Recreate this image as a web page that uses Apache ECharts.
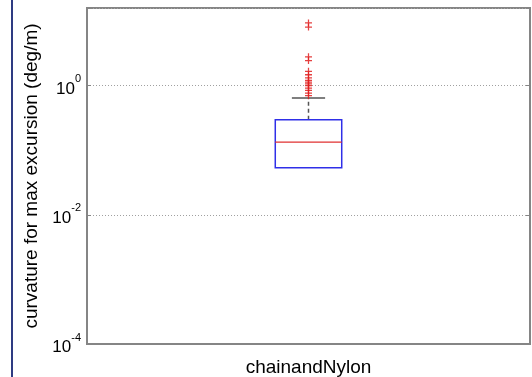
<!DOCTYPE html>
<html><head><meta charset="utf-8">
<script src="https://cdn.jsdelivr.net/npm/echarts@6/dist/echarts.min.js"></script>
<style>html,body{margin:0;padding:0;background:#fff}#c{width:532px;height:377px}</style>
</head><body><div id="c"></div>
<script>
const categories = ['chainandNylon'];
// [lowerWhisker, Q1, median, Q3, upperWhisker]
const boxStats = [[0.0536, 0.0536, 0.134, 0.297, 0.645]];
const outliers = [9.4, 8.1, 2.8, 2.45, 1.67, 1.48, 1.32, 1.21, 1.14, 1.07, 1.0, 0.92, 0.85, 0.77, 0.70];
const yTicks = [1e-4, 1e-2, 1e0];
const yLabel = 'curvature for max excursion (deg/m)';

const chart = echarts.init(document.getElementById('c'), null, {renderer: 'canvas'});
const FONT = 'Liberation Sans, Arial, sans-serif';

function fmt(v) {
  const e = Math.round(Math.log10(v));
  if (Math.abs(v / Math.pow(10, e) - 1) > 1e-6) return '';
  if (!yTicks.some(t => Math.abs(t / v - 1) < 1e-6)) return '';
  return '{b|10}{s|' + e + '}';
}

const yCommon = {
  type: 'log', logBase: 10, min: 1e-4, max: 16, interval: 2,
  axisLine: {show: true, lineStyle: {color: '#858585', width: 2}},
  axisTick: {show: true, inside: true, length: 4, lineStyle: {color: '#858585', width: 1}},
  minorTick: {show: false}
};

chart.setOption({
  animation: false,
  grid: {left: 87, right: 2, top: 8, bottom: 32, show: true, borderColor: '#858585', borderWidth: 2},
  xAxis: {
    type: 'category', data: categories,
    axisLine: {show: true, lineStyle: {color: '#858585', width: 2}},
    axisTick: {show: false},
    axisLabel: {color: '#000', fontFamily: FONT, fontSize: 19, margin: 14}
  },
  yAxis: [
    Object.assign({}, yCommon, {
      position: 'left',
      name: yLabel, nameLocation: 'middle', nameGap: 39, nameRotate: 90,
      nameTextStyle: {color: '#000', fontFamily: FONT, fontSize: 19, padding: [0, 0, 0, 0]},
      splitLine: {show: true, lineStyle: {color: '#a0a0a0', type: [1, 2], width: 1}},
      axisLabel: {
        formatter: fmt, margin: 6,
        rich: {
          b: {fontFamily: FONT, fontSize: 17, color: '#000', padding: [7, 0, 0, 0]},
          s: {fontFamily: FONT, fontSize: 11, color: '#000', verticalAlign: 'top', padding: [0, 0, 9, 0]}
        }
      }
    }),
    Object.assign({}, yCommon, {
      position: 'right', splitLine: {show: false}, axisLabel: {show: false}
    })
  ],
  graphic: [{
    type: 'line', shape: {x1: 12, y1: 0, x2: 12, y2: 377},
    style: {stroke: '#2e3b82', lineWidth: 2}
  }],
  series: [
    {
      type: 'custom',
      coordinateSystem: 'cartesian2d',
      data: boxStats.map((s, i) => [i].concat(s)),
      encode: {x: 0, y: [1, 2, 3, 4, 5]},
      renderItem: function (params, api) {
        const i = api.value(0);
        const bw = api.size([1, 0])[0];
        const half = bw * 0.075, capHalf = bw * 0.0375;
        const pLo = api.coord([i, api.value(1)]);
        const pQ1 = api.coord([i, api.value(2)]);
        const pMed = api.coord([i, api.value(3)]);
        const pQ3 = api.coord([i, api.value(4)]);
        const pHi = api.coord([i, api.value(5)]);
        const x = pQ1[0];
        return {
          type: 'group',
          children: [
            {type: 'line', shape: {x1: x, y1: pQ3[1], x2: x, y2: pHi[1]},
             style: {stroke: '#555', lineWidth: 1.5, lineDash: [4, 3]}},
            {type: 'line', shape: {x1: x, y1: pQ1[1], x2: x, y2: pLo[1]},
             style: {stroke: '#555', lineWidth: 1.5, lineDash: [4, 3]}},
            {type: 'line', shape: {x1: x - capHalf, y1: pHi[1], x2: x + capHalf, y2: pHi[1]},
             style: {stroke: '#555', lineWidth: 1.5}},
            {type: 'rect', shape: {x: x - half, y: pQ3[1], width: 2 * half, height: pQ1[1] - pQ3[1]},
             style: {stroke: '#2f2fe8', fill: 'none', lineWidth: 1.5}},
            {type: 'line', shape: {x1: x - half, y1: pMed[1], x2: x + half, y2: pMed[1]},
             style: {stroke: '#e03030', lineWidth: 1.2}}
          ]
        };
      }
    },
    {
      type: 'scatter',
      data: outliers.map(v => [0, v]),
      symbol: 'path://M-1,-0.18H1V0.18H-1Z M-0.18,-1H0.18V1H-0.18Z',
      symbolSize: 7,
      itemStyle: {color: '#e02020', opacity: 0.85}
    }
  ]
});
</script></body></html>
